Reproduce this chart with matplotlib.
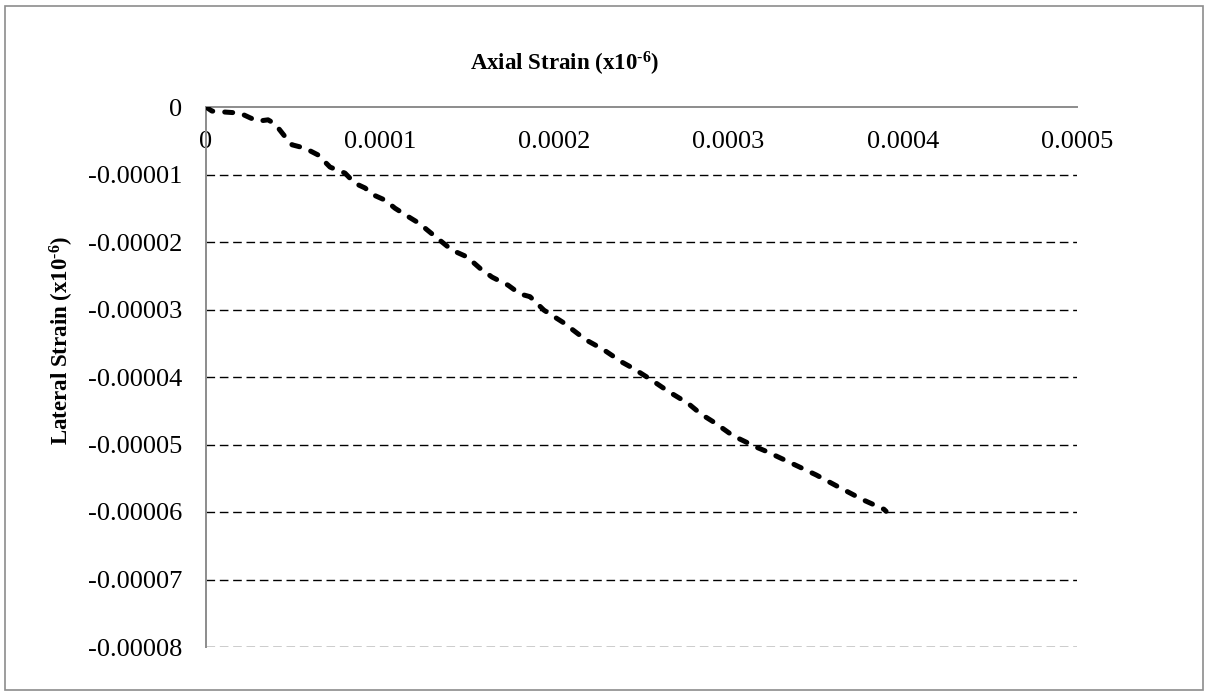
#!/usr/bin/env python3
"""
Lateral vs axial strain for the cylinder test (Poisson's ratio check).

Strain readings are in units of 1e-6 and scaled on load.
"""

import matplotlib
matplotlib.use("Agg")
import matplotlib.pyplot as plt
from matplotlib.patches import Rectangle

# --- Data (microstrain) ------------------------------------------------------
axial_ue = [0, 3.4, 8.0, 19.5, 25.3, 29.9, 35.6, 39.6, 45.4, 49.4, 56.8, 64.3,
            71.2, 79.8, 85.5, 91.3, 95.9, 102.8, 108.5, 117.1, 122.8, 126.9,
            132.6, 141.2, 149.8, 157.3, 164.2, 173.4, 180.3, 186.0, 194.0,
            204.9, 218.1, 227.9, 238.8, 245.1, 255.5, 265.2, 276.7, 284.2,
            292.2, 302.5, 316.9, 321.5, 334.7, 350.2, 363.9, 377.2, 389.2, 390.4]
lateral_ue = [0, -0.6, -0.7, -0.9, -1.6, -2.1, -1.9, -2.5, -4.4, -5.6, -6.1, -7.1,
              -8.9, -9.8, -11.3, -12.0, -13.0, -13.8, -15.0, -16.4, -17.3, -18.2,
              -19.4, -21.2, -22.2, -23.9, -25.2, -26.4, -27.7, -28.1, -30.1,
              -31.9, -34.5, -35.9, -37.8, -38.7, -40.4, -42.1, -43.9, -45.5,
              -46.8, -48.7, -50.5, -51.0, -52.6, -54.5, -56.4, -58.2, -59.6, -59.9]

x_ticks = [0, 0.0001, 0.0002, 0.0003, 0.0004, 0.0005]
x_tick_labels = ["0", "0.0001", "0.0002", "0.0003", "0.0004", "0.0005"]
y_ticks = [0, -0.00001, -0.00002, -0.00003, -0.00004,
           -0.00005, -0.00006, -0.00007, -0.00008]
y_tick_labels = ["0", "-0.00001", "-0.00002", "-0.00003", "-0.00004",
                 "-0.00005", "-0.00006", "-0.00007", "-0.00008"]

x_title = "Axial Strain (x10$^{\u2010 6}$)"
y_title = "Lateral Strain (x10$^{\u2010 6}$)"

AXIS_GREY = "#8c8c8c"
FONT = "Liberation Serif"

plt.rcParams["font.family"] = [FONT, "DejaVu Serif"]
plt.rcParams["mathtext.fontset"] = "custom"
plt.rcParams["mathtext.rm"] = FONT + ":bold"
plt.rcParams["mathtext.it"] = FONT + ":bold"
plt.rcParams["mathtext.bf"] = FONT + ":bold"


def main():
    fig = plt.figure(figsize=(12.07, 6.94), dpi=100)
    W, H = 1207, 694
    ax = fig.add_axes([206 / W, 1 - 647 / H, (1077 - 206) / W, (647 - 107) / H])

    axial = [v * 1e-6 for v in axial_ue]
    lateral = [v * 1e-6 for v in lateral_ue]
    ax.plot(axial, lateral, color="black", lw=3.6, ls=(0, (1.6, 2.4)),
            dash_capstyle="round", solid_capstyle="round", zorder=3)

    ax.set_xlim(0, 0.0005)
    ax.set_ylim(-0.00008, 0)
    ax.set_xticks(x_ticks)
    ax.set_xticklabels(x_tick_labels)
    ax.set_yticks(y_ticks)
    ax.set_yticklabels(y_tick_labels)

    # x axis sits on y = 0 at the top, labels hang just under it
    ax.xaxis.tick_top()
    ax.tick_params(axis="x", length=0, pad=-33, labelsize=19)
    ax.tick_params(axis="y", length=0, pad=17, labelsize=19)

    ax.yaxis.grid(True, color="black", lw=1.0, ls=(0, (6.2, 3.4)))
    ax.set_axisbelow(True)
    for line, t in zip(ax.get_ygridlines(), y_ticks):
        if t == 0:
            line.set_visible(False)

    for side in ("bottom", "right"):
        ax.spines[side].set_visible(False)
    for side in ("top", "left"):
        ax.spines[side].set_color(AXIS_GREY)
        ax.spines[side].set_linewidth(1.4)

    fig.text(565 / W, 1 - 64 / H, x_title, ha="center", va="center",
             fontsize=16.5, fontweight="bold")
    fig.text(62 / W, 1 - 340 / H, y_title, ha="center", va="center",
             rotation=90, fontsize=16.5, fontweight="bold")

    # chart frame
    fig.patches.append(Rectangle((4.5 / W, 1 - 690 / H), 1198 / W, 684 / H,
                                 transform=fig.transFigure, fill=False,
                                 edgecolor=AXIS_GREY, lw=1.2))

    fig.savefig("out.png", dpi=100)


if __name__ == "__main__":
    main()
